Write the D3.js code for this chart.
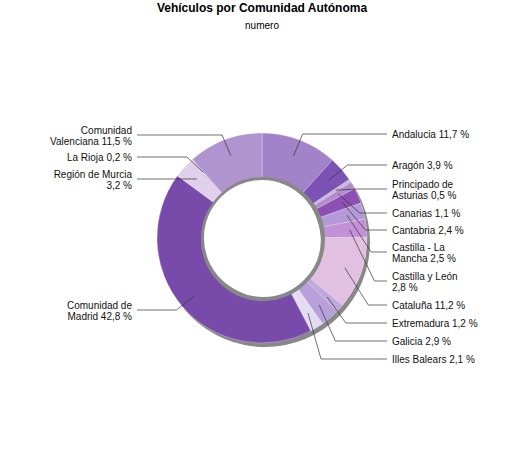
<!DOCTYPE html><html><head><meta charset="utf-8"><script src="https://cdn.jsdelivr.net/npm/d3@7"></script>
<style>body{margin:0;background:#fff}text{font-family:"Liberation Sans",Arial,sans-serif}</style></head><body><svg id="c" width="525" height="450"></svg>
<script>
const categories=["Andalucia","Aragón","Principado de Asturias","Canarias","Cantabria","Castilla - La Mancha","Castilla y León","Cataluña","Extremadura","Galicia","Illes Balears","Comunidad de Madrid","Región de Murcia","La Rioja","Comunidad Valenciana"];
const values=[11.7,3.9,0.5,1.1,2.4,2.5,2.8,11.2,1.2,2.9,2.1,42.8,3.2,0.2,11.5];
const labelLines=[["Andalucia 11,7 %"],["Aragón 3,9 %"],["Principado de","Asturias 0,5 %"],["Canarias 1,1 %"],["Cantabria 2,4 %"],["Castilla - La","Mancha 2,5 %"],["Castilla y León","2,8 %"],["Cataluña 11,2 %"],["Extremadura 1,2 %"],["Galicia 2,9 %"],["Illes Balears 2,1 %"],["Comunidad de","Madrid 42,8 %"],["Región de Murcia","3,2 %"],["La Rioja 0,2 %"],["Comunidad","Valenciana 11,5 %"]];
const colors=["#a282c8","#7d52b5","#c8b4e0","#b28ccc","#8e4fb5","#b49ad8","#c490d8","#e2c0e2","#c0a8dc","#b8a0dc","#e4dcf0","#784aaa","#e0d0ec","#c8b0e0","#b094d0"];
const labelY=[134,165,184,213,230,247,276,305,323,341,359,305,174,157,130];
const svg=d3.select("#c");
svg.append("text").attr("x",262).attr("y",12).attr("text-anchor","middle").attr("font-size",12).attr("font-weight","bold").text("Vehículos por Comunidad Autónoma");
svg.append("text").attr("x",262).attr("y",29).attr("text-anchor","middle").attr("font-size",10).text("numero");
const cx=262,cy=238,R=105,r=60;
const pie=d3.pie().sort(null).value(d=>d);
const arcs=pie(values);
const arc=d3.arc().innerRadius(r).outerRadius(R);
const g=svg.append("g").attr("transform",`translate(${cx},${cy})`);
g.append("path").attr("transform","translate(3,4)").attr("fill","#888").attr("d",d3.arc().innerRadius(r-4).outerRadius(R)({startAngle:0,endAngle:2*Math.PI}));
g.selectAll("path.s").data(arcs).join("path").attr("class","s").attr("d",arc).attr("fill",(d,i)=>colors[i]).attr("stroke","#fff").attr("stroke-width",0.3);
g.append("circle").attr("r",r-4).attr("cx",-2).attr("cy",-2).attr("fill","#fff");
g.append("circle").attr("r",r).attr("fill","none").attr("stroke","#888").attr("stroke-width",4).attr("transform","translate(1,1)");
g.append("circle").attr("r",r-2).attr("fill","#fff");
arcs.forEach((a,i)=>{
  const m=(a.startAngle+a.endAngle)/2, right=m<Math.PI;
  const p1=[Math.sin(m)*88,-Math.cos(m)*88];
  const ly=labelY[i]-cy+ (labelLines[i].length>1?5:0);
  const ex=Math.sin(m)*(R+8);
  const x3=right?125:-125;
  g.append("polyline").attr("fill","none").attr("stroke","#333").attr("stroke-width",0.7)
   .attr("points",[p1,[ex,ly],[x3,ly]].map(p=>p.join(",")).join(" "));
  const t=g.append("text").attr("font-size",10).attr("text-anchor",right?"start":"end").attr("fill","#111");
  labelLines[i].forEach((s,k)=>t.append("tspan").attr("x",right?x3+5:x3-5).attr("y",labelY[i]-cy+4+k*11 -(labelLines[i].length>1?0:0)).text(s));
});
</script></body></html>
